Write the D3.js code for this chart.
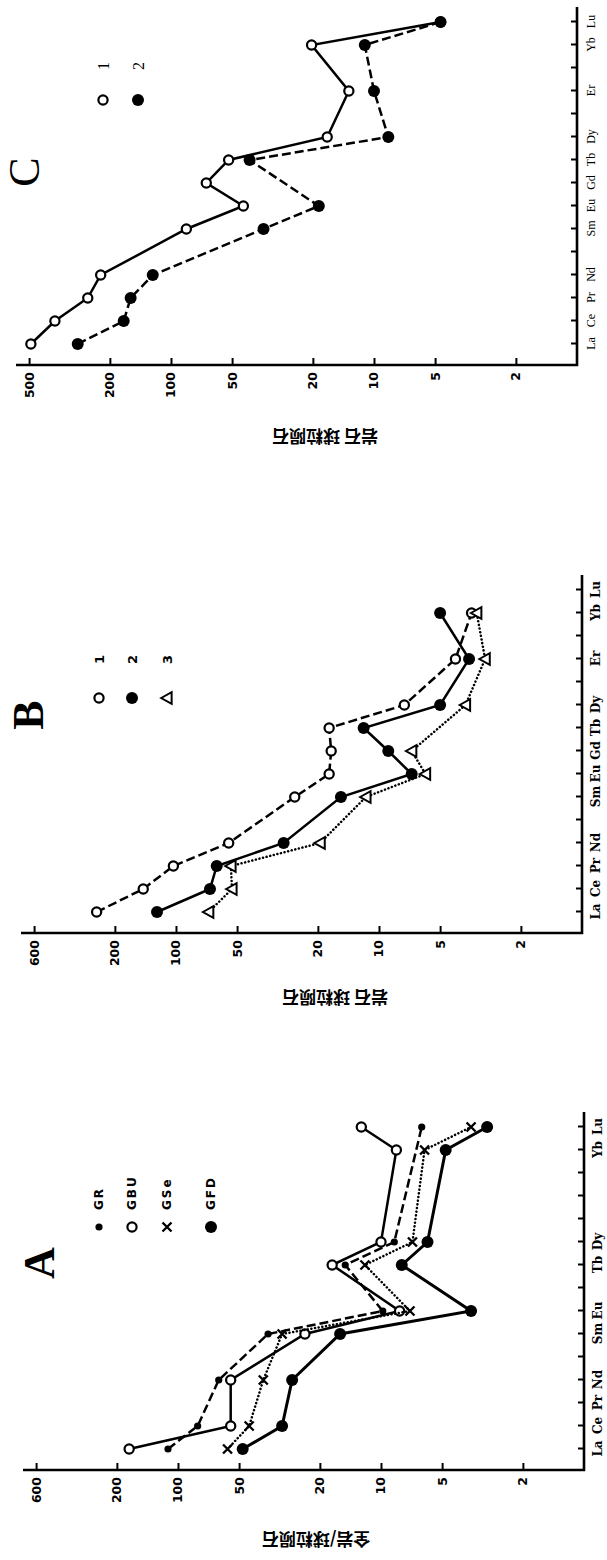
<!DOCTYPE html>
<html>
<head>
<meta charset="utf-8">
<script src="https://cdn.jsdelivr.net/npm/d3@7"></script>
<style>
  body { margin: 0; background: #fff; }
</style>
</head>
<body>
<div id="chart"></div>
<script>
// REE order on the element axis
var elements = ["La","Ce","Pr","Nd","Pm","Sm","Eu","Gd","Tb","Dy","Ho","Er","Tm","Yb","Lu"];
var labelsA = ["La","Ce","Pr","Nd","","Sm","Eu","","Tb","Dy","","","","Yb","Lu"];
var labelsB = ["La","Ce","Pr","Nd","","Sm","Eu","Gd","Tb","Dy","","Er","","Yb","Lu"];
var labelsC = ["La","Ce","Pr","Nd","","Sm","Eu","Gd","Tb","Dy","","Er","","Yb","Lu"];

var tickValues = [500, 200, 100, 50, 20, 10, 5, 2];
var tickLabelsAB = ["600","200","100","50","20","10","5","2"];
var tickLabelsC = ["500","200","100","50","20","10","5","2"];

// panel A  (GR, GBU, GSe, GFD)
var seriesNamesA = ["GR","GBU","GSe","GFD"];
var grA  = [112, 80, null, 63, null, 36, 9.8, null, 15, 8.6, null, null, null, null, 6.3];
var gbuA = [174, 55, null, 55, null, 23.7, 8.1, null, 17.4, 10, null, null, null, 8.4, 12.5];
var gseA = [57, 44.6, null, 38, null, 30.7, 7.2, null, 12, 7, null, null, null, 6.1, 3.6];
var gfdA = [48, 30.7, null, 27.4, null, 15.9, 3.6, null, 7.9, 5.9, null, null, null, 4.8, 3.0];

// panel B  (1, 2, 3)
var seriesNamesB = ["1","2","3"];
var s1B = [246, 145, 103, 55, null, 26, 17.6, 17.2, 17.6, 7.5, null, 4.2, null, 3.5, null];
var s2B = [124, 68, 63, 29.5, null, 15.4, 6.9, 9, 11.9, 5, null, 3.6, null, 5.0, null];
var s3B = [69, 53, 53.6, 19.5, null, 11.6, 5.9, 6.9, null, 3.75, null, 3.0, null, 3.3, null];

// panel C  (1, 2)
var seriesNamesC = ["1","2"];
var s1C = [490, 373, 257, 222, null, 84, 44, 67, 52, 17, null, 13.3, null, 20.3, 4.7];
var s2C = [288, 171, 158, 123, null, 35, 18.7, null, 41, 8.5, null, 10, null, 11.1, 4.7];

var yTitleA = "全岩/球粒陨石";
var yTitleBC = "岩石 球粒陨石";

var svg = d3.select("#chart").append("svg")
  .attr("width", 607)
  .attr("height", 1560)
  .style("background", "#fff");

var H = 561;   // length of value axis
var W = 358;   // length of element axis

function drawMarker(g, type, cx, cy) {
  if (type == "dot") {
    g.append("circle").attr("cx", cx).attr("cy", cy).attr("r", 3.6).attr("fill", "#000");
  } else if (type == "big") {
    g.append("circle").attr("cx", cx).attr("cy", cy).attr("r", 6).attr("fill", "#000");
  } else if (type == "open") {
    g.append("circle").attr("cx", cx).attr("cy", cy).attr("r", 4.6)
      .attr("fill", "#fff").attr("stroke", "#000").attr("stroke-width", 2.2);
  } else if (type == "cross") {
    var s = 4.5;
    g.append("path")
      .attr("d", `M${cx-s},${cy-s}L${cx+s},${cy+s}M${cx-s},${cy+s}L${cx+s},${cy-s}`)
      .attr("stroke", "#000").attr("stroke-width", 2.4);
  } else if (type == "tri") {
    var t = 5.8;
    g.append("path")
      .attr("d", `M${cx},${cy-t}L${cx+t},${cy+t*0.8}L${cx-t},${cy+t*0.8}Z`)
      .attr("fill", "#fff").attr("stroke", "#000").attr("stroke-width", 2);
  }
}

function drawPanel(p) {
  // draw in normal orientation, then turn the whole panel by -90deg
  var g = svg.append("g")
    .attr("transform", `translate(${p.tx},${p.ty}) rotate(-90)`);

  var x = d3.scaleLinear().domain([0, elements.length - 1]).range([21, 343]);
  var y = d3.scaleLog().domain([1, 580]).range([H, 0]);

  var yAxis = d3.axisLeft(y)
    .tickValues(tickValues)
    .tickFormat((d, i) => p.tickLabels[i])
    .tickSizeInner(-7).tickSizeOuter(0).tickPadding(7);
  var ya = g.append("g").call(yAxis);
  ya.select(".domain").remove();
  ya.selectAll("line").attr("stroke-width", 2);
  ya.selectAll("text")
    .attr("font-family", "DejaVu Sans")
    .attr("font-weight", "bold")
    .attr("font-size", 12.5);

  var xAxis = d3.axisBottom(x)
    .tickValues(d3.range(elements.length))
    .tickFormat(i => p.labels[i])
    .tickSizeInner(-6).tickSizeOuter(0).tickPadding(9);
  var xa = g.append("g").attr("transform", `translate(0,${H})`).call(xAxis);
  xa.select(".domain").remove();
  xa.selectAll("line").attr("stroke-width", 2);
  xa.selectAll("text")
    .attr("font-family", p.labelFont)
    .attr("font-weight", p.labelWeight)
    .attr("font-size", 12);

  // axis lines meeting at the corner
  g.append("path")
    .attr("d", `M0,0V${H}H${W}`)
    .attr("fill", "none").attr("stroke", "#000").attr("stroke-width", 2.6);

  var line = d3.line().x(d => x(d.i)).y(d => y(d.v));

  p.series.forEach(function(s) {
    var pts = s.values.map((v, i) => ({i: i, v: v})).filter(d => d.v != null);
    g.append("path")
      .datum(pts)
      .attr("d", line)
      .attr("fill", "none")
      .attr("stroke", "#000")
      .attr("stroke-width", s.width || 2.5)
      .attr("stroke-linecap", s.dash == "dot" ? "round" : "butt")
      .attr("stroke-dasharray", s.dash == "dash" ? "9,4" : s.dash == "dot" ? "0.1,3.6" : null);
    pts.forEach(d => drawMarker(g, s.marker, x(d.i), y(d.v)));
  });

  // legend
  p.series.forEach(function(s, k) {
    drawMarker(g, s.marker, p.legend.x, p.legend.ys[k]);
    g.append("text")
      .attr("x", p.legend.x + p.legend.dx)
      .attr("y", p.legend.ys[k])
      .attr("dominant-baseline", "central")
      .attr("font-family", p.legendFont)
      .attr("font-weight", p.legendWeight)
      .attr("font-size", p.legendSize)
      .attr("letter-spacing", p.legendSpacing)
      .text(s.name);
  });

  // panel letter
  g.append("text")
    .attr("x", p.title.x).attr("y", p.title.y)
    .attr("text-anchor", "middle")
    .attr("font-family", "Liberation Serif")
    .attr("font-weight", p.title.weight)
    .attr("font-size", 44)
    .text(p.name);

  // value axis title
  g.append("text")
    .attr("transform", `translate(${p.yTitlePos[0]},${p.yTitlePos[1]}) rotate(-90)`)
    .attr("text-anchor", "middle")
    .attr("dominant-baseline", "central")
    .attr("font-family", "Noto Sans CJK SC")
    .attr("font-weight", "bold")
    .attr("font-size", 17)
    .text(p.yTitle);
}

drawPanel({
  name: "C", tx: 16, ty: 365,
  labels: labelsC, tickLabels: tickLabelsC,
  labelFont: "Liberation Serif", labelWeight: "normal",
  series: [
    {name: seriesNamesC[0], values: s1C, marker: "open", dash: null},
    {name: seriesNamesC[1], values: s2C, marker: "big", dash: "dash"}
  ],
  legend: {x: 265, ys: [87, 122], dx: 30},
  legendFont: "Liberation Serif", legendWeight: "normal", legendSize: 16, legendSpacing: 0,
  title: {x: 193, y: 23, weight: "normal"},
  yTitle: yTitleBC, yTitlePos: [-72, 309]
});

drawPanel({
  name: "B", tx: 21, ty: 933,
  labels: labelsB, tickLabels: tickLabelsAB,
  labelFont: "DejaVu Serif", labelWeight: "bold",
  series: [
    {name: seriesNamesB[0], values: s1B, marker: "open", dash: "dash"},
    {name: seriesNamesB[1], values: s2B, marker: "big", dash: null},
    {name: seriesNamesB[2], values: s3B, marker: "tri", dash: "dot"}
  ],
  legend: {x: 235, ys: [78, 111, 146], dx: 34},
  legendFont: "DejaVu Sans", legendWeight: "bold", legendSize: 13, legendSpacing: 0,
  title: {x: 218, y: 22, weight: "bold"},
  yTitle: yTitleBC, yTitlePos: [-65, 314]
});

drawPanel({
  name: "A", tx: 23, ty: 1470,
  labels: labelsA, tickLabels: tickLabelsAB,
  labelFont: "DejaVu Serif", labelWeight: "bold",
  series: [
    {name: seriesNamesA[0], values: grA, marker: "dot", dash: "dash"},
    {name: seriesNamesA[1], values: gbuA, marker: "open", dash: null},
    {name: seriesNamesA[2], values: gseA, marker: "cross", dash: "dot"},
    {name: seriesNamesA[3], values: gfdA, marker: "big", dash: null, width: 3}
  ],
  legend: {x: 243, ys: [76, 109, 144, 188], dx: 17},
  legendFont: "DejaVu Sans", legendWeight: "bold", legendSize: 12, legendSpacing: 2,
  title: {x: 207, y: 31, weight: "bold"},
  yTitle: yTitleA, yTitlePos: [-70, 293]
});
</script>
</body>
</html>
